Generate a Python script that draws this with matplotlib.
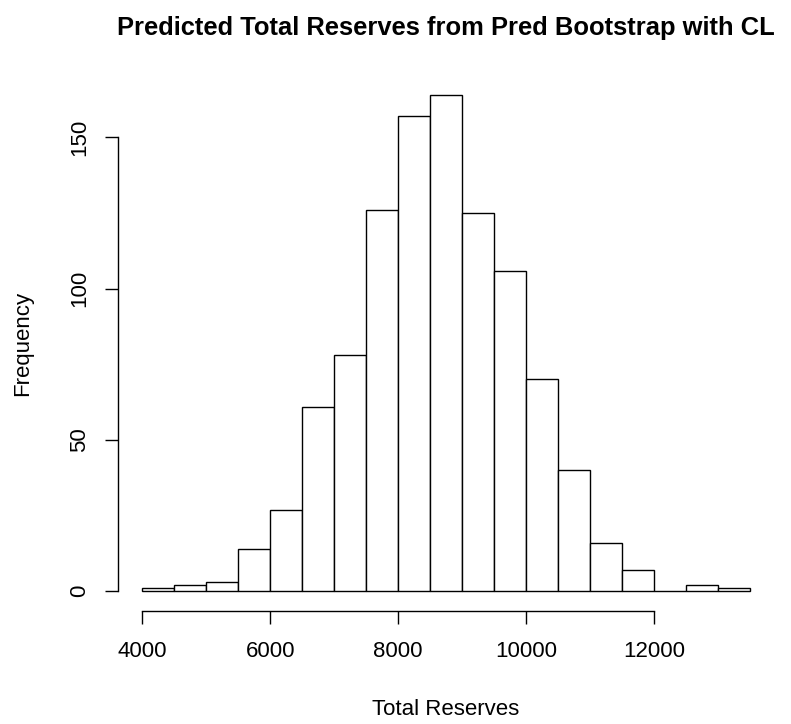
import numpy as np
import matplotlib
matplotlib.use('Agg')
import matplotlib.pyplot as plt

# histogram data: bin edges and counts
bin_edges = np.arange(4000, 13501, 500)
counts = [1, 2, 3, 14, 27, 61, 78, 126, 157, 164, 125, 106, 70, 40, 16, 7, 0, 2, 1]
x_ticks = [4000, 6000, 8000, 10000, 12000]
y_ticks = [0, 50, 100, 150]

plt.rcParams['font.family'] = ['Liberation Sans', 'DejaVu Sans']

fig = plt.figure(figsize=(7.91, 7.24), dpi=100)
ax = fig.add_axes([0.149, 0.156, 0.830, 0.740])

ax.bar(bin_edges[:-1], counts, width=np.diff(bin_edges), align='edge',
       facecolor='white', edgecolor='black', linewidth=1.0)

# R-style limits (4% padding)
xr = bin_edges[-1] - bin_edges[0]
ax.set_xlim(bin_edges[0] - 0.04 * xr, bin_edges[-1] + 0.04 * xr)
ym = max(counts)
ax.set_ylim(-0.04 * ym, ym * 1.04)

for s in ['top', 'right']:
    ax.spines[s].set_visible(False)
ax.spines['bottom'].set_bounds(x_ticks[0], x_ticks[-1])
ax.spines['left'].set_bounds(y_ticks[0], y_ticks[-1])
ax.spines['bottom'].set_linewidth(1.0)
ax.spines['left'].set_linewidth(1.0)

ax.set_xticks(x_ticks)
ax.set_yticks(y_ticks)
ax.set_yticklabels([str(v) for v in y_ticks], rotation=90, va='center')
ax.tick_params(axis='x', direction='out', length=9.5, width=1.0, labelsize=16, pad=12)
ax.tick_params(axis='y', direction='out', length=9.5, width=1.0, labelsize=16, pad=10.5)

ax.set_xlabel('Total Reserves', fontsize=16, labelpad=27)
ax.set_ylabel('Frequency', fontsize=16, labelpad=26)
fig.text(0.564, 0.961, 'Predicted Total Reserves from Pred Bootstrap with CL',
         ha='center', va='center', fontsize=18.4, fontweight='bold')

fig.savefig('out.png', dpi=100, facecolor='white')
